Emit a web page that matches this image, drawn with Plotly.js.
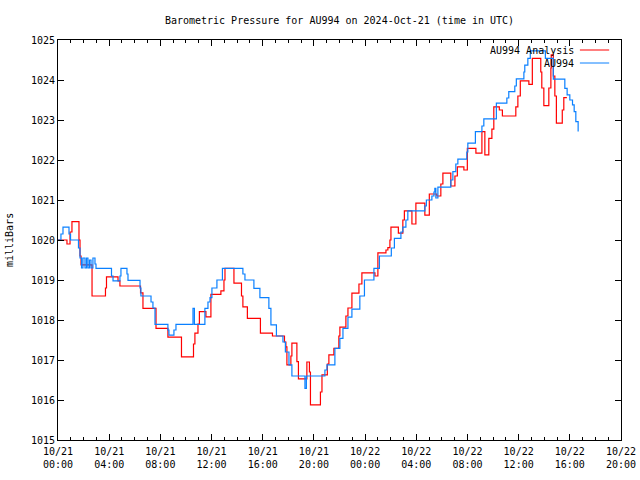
<!DOCTYPE html>
<html>
<head>
<meta charset="utf-8">
<script src="https://cdn.plot.ly/plotly-3.0.1.min.js"></script>
<style>
html,body{margin:0;padding:0;background:#fff;}
#chart{width:640px;height:480px;}
</style>
</head>
<body>
<div id="chart"></div>
<script>
// Hours since 2024-10-21 00:00 UTC, and pressure (mb); each value holds until the next time
var startUTC = Date.UTC(2024, 9, 21, 0, 0, 0);

var analysisHours = [0, 0.70, 0.94, 1.09, 1.64, 1.72, 1.80, 2.66, 3.71, 3.79, 4.69, 4.84, 6.45, 6.64, 7.66,
  8.59, 9.65, 10.59, 10.70, 10.94, 11.05, 11.56, 11.95, 12.73, 12.97, 13.05, 13.75, 14.34, 14.45, 14.80,
  15.82, 16.76, 17.70, 17.81, 17.89, 18.20, 18.28, 18.67, 18.79, 19.45, 19.65, 19.73, 20.51, 20.63,
  21.05, 21.17, 21.56, 21.95, 22.03, 22.50, 22.66, 22.97, 23.52, 23.75, 24.77, 25.00, 25.63, 25.78,
  25.94, 26.02, 26.60, 26.95, 27.07, 27.66, 27.97, 28.67, 29.02, 29.61, 29.92, 30.08, 30.70, 31.02,
  31.21, 31.72, 31.99, 32.66, 33.13, 33.36, 33.67, 33.91, 34.06, 34.49, 34.73, 35.78, 35.94, 36.13,
  36.80, 37.07, 37.73, 37.81, 37.97, 38.36, 38.52, 38.55, 38.71, 38.83, 38.95, 39.41, 39.53, 39.77];
var analysisValues = [1020.0, 1019.9, 1020.2, 1020.46, 1020.0, 1019.6, 1019.38, 1018.6, 1018.8, 1019.08, 1018.98, 1018.85, 1018.68, 1018.29, 1017.79,
  1017.57, 1017.08, 1017.4, 1017.67, 1017.9, 1018.21, 1018.08, 1018.64, 1018.73, 1019.0, 1019.29, 1018.92, 1018.6, 1018.33, 1018.04,
  1017.67, 1017.6, 1017.45, 1017.33, 1016.88, 1017.1, 1017.42, 1016.96, 1016.53, 1016.95, 1016.7, 1015.88, 1016.2, 1016.63,
  1016.9, 1017.13, 1017.29, 1017.6, 1017.82, 1018.1, 1018.3, 1018.67, 1018.9, 1019.18, 1019.1, 1019.68, 1019.75, 1019.81,
  1020.0, 1020.32, 1020.17, 1020.5, 1020.73, 1020.4, 1020.92, 1020.62, 1021.15, 1021.1, 1021.4, 1021.67, 1021.35, 1021.6,
  1021.83, 1021.75, 1022.29, 1022.17, 1022.71, 1022.13, 1022.54, 1022.77, 1023.33, 1023.25, 1023.1, 1023.33, 1023.6, 1023.98,
  1023.89, 1024.54, 1024.2, 1023.8, 1023.36, 1023.8, 1024.3, 1024.63, 1024.1, 1023.6, 1022.92, 1023.25, 1023.56, 1023.56];

var stationHours = [0, 0.23, 0.39, 0.86, 0.98, 1.60, 1.72, 1.84, 1.95, 2.11, 2.23, 2.34, 2.46, 2.58, 2.73, 2.89, 2.97,
  4.18, 4.30, 4.84, 4.92, 5.39, 5.47, 6.41, 6.48, 7.27, 7.42, 7.58, 8.59, 8.67, 9.06, 9.22, 10.55, 10.66,
  11.48, 11.72, 11.88, 12.03, 12.42, 12.85, 14.45, 14.61, 15.31, 15.78, 16.48, 16.64, 17.07, 17.58, 17.77,
  18.05, 18.28, 19.30, 19.41, 20.86, 21.02, 21.64, 22.03, 22.27, 22.66, 22.97, 23.59, 23.95, 24.69, 25.12,
  26.05, 26.29, 26.80, 26.95, 27.19, 27.34, 28.67, 28.79, 29.22, 29.38, 29.45, 29.53, 29.69, 30.70, 30.86,
  31.09, 31.25, 31.95, 32.03, 32.62, 33.13, 33.28, 34.26, 35.08, 35.23, 35.70, 35.82, 36.41, 36.48, 36.72,
  36.91, 38.09, 38.71, 39.61, 39.79, 40.00, 40.21, 40.34, 40.47, 40.65];
var stationValues = [1020.0, 1020.15, 1020.32, 1020.15, 1020.0, 1019.8, 1019.55, 1019.3, 1019.55, 1019.3, 1019.55, 1019.3, 1019.5, 1019.3, 1019.55, 1019.4, 1019.29,
  1019.1, 1018.98, 1019.1, 1019.29, 1019.15, 1018.99, 1018.8, 1018.6, 1018.45, 1018.3, 1017.89, 1017.75, 1017.62, 1017.75, 1017.89, 1018.29, 1017.89,
  1018.29, 1018.45, 1018.56, 1018.8, 1019.0, 1019.29, 1019.15, 1019.0, 1018.79, 1018.56, 1018.29, 1017.88, 1017.6, 1017.45, 1017.2,
  1016.88, 1016.6, 1016.29, 1016.6, 1016.75, 1016.88, 1017.29, 1017.54, 1017.79, 1018.07, 1018.27, 1018.6, 1019.0, 1019.29, 1019.6,
  1019.8, 1020.04, 1020.2, 1020.32, 1020.5, 1020.73, 1020.85, 1021.0, 1021.1, 1021.2, 1021.29, 1021.05, 1021.32, 1021.5, 1021.71,
  1021.9, 1022.02, 1022.2, 1022.42, 1022.71, 1022.85, 1023.03, 1023.42, 1023.55, 1023.71, 1023.85, 1024.03, 1024.2, 1024.37, 1024.54,
  1024.73, 1024.54, 1024.02, 1023.79, 1023.63, 1023.5, 1023.38, 1023.21, 1022.96, 1022.71];

var tickHours = [0, 4, 8, 12, 16, 20, 24, 28, 32, 36, 40, 44];
var tickLabels = ["10/21<br>00:00", "10/21<br>04:00", "10/21<br>08:00", "10/21<br>12:00", "10/21<br>16:00", "10/21<br>20:00",
  "10/22<br>00:00", "10/22<br>04:00", "10/22<br>08:00", "10/22<br>12:00", "10/22<br>16:00", "10/22<br>20:00"];
var seriesNames = ["AU994 Analysis", "AU994"];

function pad(n){ return (n < 10 ? "0" : "") + n; }
function toStamp(h){
  var d = new Date(startUTC + Math.round(h * 3600) * 1000);
  return d.getUTCFullYear() + "-" + pad(d.getUTCMonth() + 1) + "-" + pad(d.getUTCDate()) + " " +
    pad(d.getUTCHours()) + ":" + pad(d.getUTCMinutes()) + ":" + pad(d.getUTCSeconds());
}

var FONT = "DejaVu Sans Mono, monospace";
var traces = [
  {x: analysisHours.map(toStamp), y: analysisValues, type: "scatter", mode: "lines", name: seriesNames[0],
   line: {color: "#ff0000", width: 1.2, shape: "hv"}},
  {x: stationHours.map(toStamp), y: stationValues, type: "scatter", mode: "lines", name: seriesNames[1],
   line: {color: "#0a80ff", width: 1.2, shape: "hv"}}
];

var layout = {
  width: 640, height: 480,
  margin: {l: 58, r: 19, t: 40, b: 40, pad: 0},
  paper_bgcolor: "#fff", plot_bgcolor: "#fff",
  showlegend: false,
  font: {family: FONT, size: 10, color: "#000"},
  title: {text: "Barometric Pressure for AU994 on 2024-Oct-21 (time in UTC)", font: {family: FONT, size: 10, color: "#000"},
          x: 0.5, xref: "paper", y: 1 - 20/480, yref: "container", yanchor: "middle"},
  xaxis: {
    type: "date",
    range: [toStamp(0), toStamp(44)],
    tickvals: tickHours.map(toStamp), ticktext: tickLabels,
    ticks: "inside", ticklen: 6, tickwidth: 1, tickcolor: "#000", ticklabelstandoff: 2,
    minor: {dtick: 3600000, ticks: "inside", ticklen: 3, tickwidth: 1, tickcolor: "#000", showgrid: false},
    showline: true, linecolor: "#000", linewidth: 1, mirror: "ticks",
    showgrid: false, zeroline: false, fixedrange: true,
    tickfont: {family: FONT, size: 10, color: "#000"}
  },
  yaxis: {
    range: [1015, 1025], dtick: 1, tick0: 1015,
    ticks: "inside", ticklen: 6, tickwidth: 1, tickcolor: "#000",
    showline: true, linecolor: "#000", linewidth: 1, mirror: "ticks",
    showgrid: false, zeroline: false, fixedrange: true,
    tickfont: {family: FONT, size: 10, color: "#000"}
  },
  annotations: [
    {text: "milliBars", xref: "paper", yref: "paper", x: -0.087, y: 0.5, textangle: -90, showarrow: false,
     xanchor: "center", yanchor: "middle", font: {family: FONT, size: 10, color: "#000"}},
    {text: seriesNames[0], xref: "paper", yref: "paper", x: 0.92, y: 1 - 10/400, showarrow: false,
     xanchor: "right", yanchor: "middle", font: {family: FONT, size: 10, color: "#000"}},
    {text: seriesNames[1], xref: "paper", yref: "paper", x: 0.92, y: 1 - 23/400, showarrow: false,
     xanchor: "right", yanchor: "middle", font: {family: FONT, size: 10, color: "#000"}}
  ],
  shapes: [
    {type: "line", xref: "paper", yref: "paper", x0: 0.927, x1: 0.979, y0: 1 - 10/400, y1: 1 - 10/400,
     line: {color: "#ff0000", width: 1}},
    {type: "line", xref: "paper", yref: "paper", x0: 0.927, x1: 0.979, y0: 1 - 23/400, y1: 1 - 23/400,
     line: {color: "#0a80ff", width: 1}}
  ]
};

Plotly.newPlot("chart", traces, layout, {displayModeBar: false, staticPlot: true});
</script>
</body>
</html>
